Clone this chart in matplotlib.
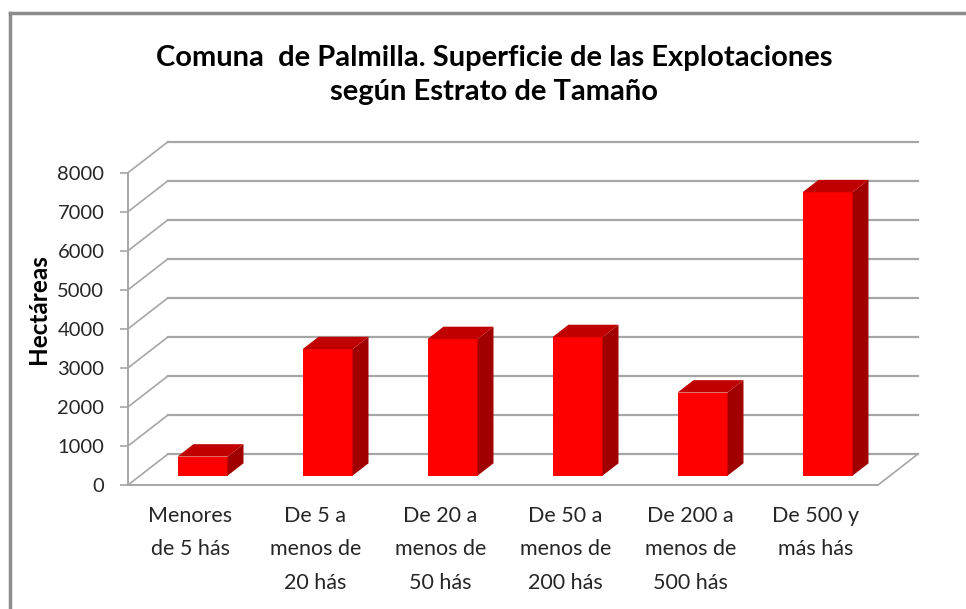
import numpy as np
import matplotlib as mpl
mpl.use('Agg')
import matplotlib.pyplot as plt
from matplotlib.patches import Polygon
from matplotlib.lines import Line2D

plt.rcParams['font.family'] = ['Lato', 'DejaVu Sans']

# data
categories = ["Menores\nde 5 hás", "De 5 a\nmenos de\n20 hás", "De 20 a\nmenos de\n50 hás",
              "De 50 a\nmenos de\n200 hás", "De 200 a\nmenos de\n500 hás", "De 500 y\nmás hás"]
hectareas = [490, 3240, 3500, 3550, 2130, 7260]
y_ticks = [0, 1000, 2000, 3000, 4000, 5000, 6000, 7000, 8000]

title = "Comuna  de Palmilla. Superficie de las Explotaciones\nsegún Estrato de Tamaño"
ylabel = "Hectáreas"

# fake 3d look: depth offset of the back wall in data units
DX = 0.32
DY = 794
BAR_W = 0.4
BAR_D0, BAR_D1 = 0.3, 0.7

FRONT = '#ff0000'
SIDE = '#a00000'
TOP = '#c00000'
GRID = '#a6a6a6'

fig = plt.figure(figsize=(9.66, 6.09), dpi=100)
ax = fig.add_axes([128 / 966, 124 / 609, 750 / 966, 312.3 / 609])
ax.set_xlim(0, len(categories))
ax.set_ylim(0, 8000)

# walls: back gridlines + diagonals on the side wall
for v in y_ticks:
    ax.plot([DX, len(categories) + DX], [v + DY, v + DY], color=GRID, lw=1.6,
            clip_on=False, zorder=1)
    ax.plot([0, DX], [v, v + DY], color=GRID, lw=1.2, clip_on=False, zorder=1)
# floor right edge
ax.plot([len(categories), len(categories) + DX], [0, DY], color=GRID, lw=1.2,
        clip_on=False, zorder=1)

# bars
for i, v in enumerate(hectareas):
    x0 = i + 0.5 - BAR_W / 2 + BAR_D0 * DX
    x1 = x0 + BAR_W
    b = BAR_D0 * DY
    t = v + b
    ddx = (BAR_D1 - BAR_D0) * DX
    ddy = (BAR_D1 - BAR_D0) * DY
    front = Polygon([(x0, b), (x1, b), (x1, t), (x0, t)], closed=True,
                    facecolor=FRONT, edgecolor='none', zorder=3, clip_on=False)
    side = Polygon([(x1, b), (x1 + ddx, b + ddy), (x1 + ddx, t + ddy), (x1, t)], closed=True,
                   facecolor=SIDE, edgecolor='none', zorder=3, clip_on=False)
    top = Polygon([(x0, t), (x1, t), (x1 + ddx, t + ddy), (x0 + ddx, t + ddy)], closed=True,
                  facecolor=TOP, edgecolor='none', zorder=3, clip_on=False)
    for p in (front, side, top):
        ax.add_patch(p)

for s in ['top', 'right']:
    ax.spines[s].set_visible(False)
ax.spines['left'].set_color(GRID)
ax.spines['left'].set_linewidth(1.4)
ax.spines['bottom'].set_color(GRID)
ax.spines['bottom'].set_linewidth(1.4)
ax.patch.set_visible(False)

ax.set_yticks(y_ticks)
ax.set_yticklabels([str(v) for v in y_ticks])
ax.tick_params(axis='y', length=6, width=1.2, color=GRID, pad=11,
               labelsize=14.5, labelcolor='#262626')
ax.set_xticks(np.arange(len(categories)) + 0.5)
ax.set_xticklabels(categories, linespacing=1.85)
ax.tick_params(axis='x', length=0, pad=15, labelsize=15.5, labelcolor='#262626')

fig.text(38 / 966, 1 - 309 / 609, ylabel, rotation=90, ha='center', va='center',
         fontsize=17.5, fontweight='bold', color='black')
fig.text(494 / 966, 1 - 75 / 609, title, ha='center', va='center', fontsize=21,
         fontweight='bold', linespacing=1.35)

# chart frame (cut off on the right and bottom)
fig.add_artist(Line2D([9.5 / 966, 9.5 / 966], [-0.1, 1 - 12.5 / 609], color='#8c8c8c',
                      lw=2.5, transform=fig.transFigure))
fig.add_artist(Line2D([9.5 / 966, 1.1], [1 - 12.5 / 609, 1 - 12.5 / 609], color='#8c8c8c',
                      lw=2.5, transform=fig.transFigure))

fig.savefig('out.png', dpi=100)
